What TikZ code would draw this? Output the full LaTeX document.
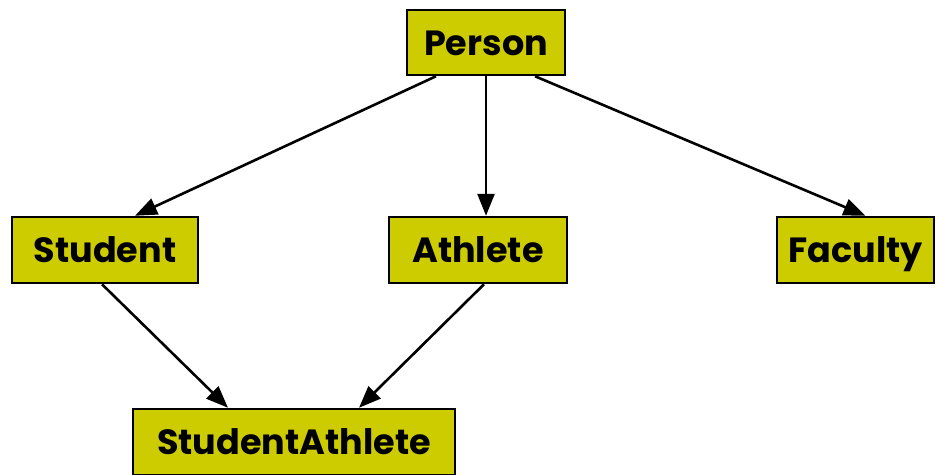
\documentclass[tikz,border=0pt]{standalone}
\usepackage{fontspec}
\setmainfont{Poppins}
\usepackage{tikz}
\usetikzlibrary{arrows.meta}
\usetikzlibrary{positioning}
\definecolor{boxfill}{HTML}{CCCC00}

\begin{document}
\begin{tikzpicture}[x=1pt, y=1pt]

                \tikzset{
                    classbox/.style={draw, fill=boxfill, line width=2.5pt,
                        inner sep=0pt, text height=27pt, text depth=2pt,
                        font=\fontsize{35}{40}\selectfont\bfseries},
                    isa/.style={line width=2.6pt, -{Triangle[length=22pt,width=17pt]}}
                }

                \useasboundingbox (0, 0) rectangle (936, -474);

                % the classes
                \begin{scope}
                    \node (person) [classbox, minimum width=158, minimum height=65]
                    at (486, -42.5) {Person};
                    \node (student) [classbox, minimum width=186, minimum height=66]
                    at (105, -250) {Student};
                    \node (athlete) [classbox, minimum width=178, minimum height=66]
                    at (478, -250) {Athlete};
                    \node (faculty) [classbox, minimum width=157, minimum height=66]
                    at (855.5, -250) {Faculty};
                    \node (studentathlete) [classbox, minimum width=322, minimum height=66]
                    at (294, -442) {StudentAthlete};
                \end{scope}

                % inheritance arrows
                \begin{scope}
                    \draw[isa] ([xshift=-50]person.south) -- ([xshift=30]student.north);
                    \draw[isa] (person.south) -- ([xshift=8]athlete.north);
                    \draw[isa] ([xshift=49]person.south) -- ([xshift=10]faculty.north);
                    \draw[isa] ([xshift=-3]student.south) -- ([xshift=-66]studentathlete.north);
                    \draw[isa] ([xshift=6]athlete.south) -- ([xshift=65]studentathlete.north);
                \end{scope}

                \end{tikzpicture}
\end{document}
